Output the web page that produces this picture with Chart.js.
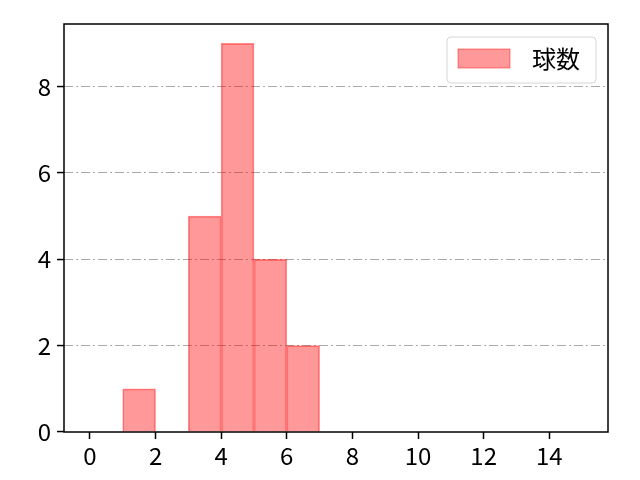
<!DOCTYPE html>
<html>
<head>
<meta charset="utf-8">
<script src="https://cdn.jsdelivr.net/npm/chart.js@4/dist/chart.umd.min.js"></script>
<style>
  html, body { margin: 0; padding: 0; background: #fff; }
  #wrap { width: 640px; height: 480px; }
</style>
</head>
<body>
<div id="wrap"><canvas id="histChart" width="640" height="480"></canvas></div>
<script>
// histogram bins (left edge, width 1) and counts
const binLeft = [1, 3, 4, 5, 6];
const counts = [1, 5, 9, 4, 2];
const seriesLabel = '球数';
const xTicks = [0, 2, 4, 6, 8, 10, 12, 14];
const yTicks = [0, 2, 4, 6, 8];

const points = binLeft.map((b, i) => ({ x: b + 0.5, y: counts[i] }));

const fontFamily = "'Noto Sans CJK JP', 'Noto Sans', sans-serif";
const fontSize = 24;
Chart.defaults.font.family = fontFamily;
Chart.defaults.font.size = fontSize;
Chart.defaults.color = '#000';

// black box round the plot, legend in the upper right corner
const framePlugin = {
  id: 'framePlugin',
  afterDraw(chart) {
    const a = chart.chartArea;
    const c = chart.ctx;
    c.save();
    c.strokeStyle = '#000';
    c.lineWidth = 1.5;
    c.strokeRect(a.left, a.top, a.right - a.left, a.bottom - a.top);

    // legend
    const ds = chart.data.datasets[0];
    const x0 = a.right - 161, x1 = a.right - 12;
    const y0 = a.top + 13, y1 = a.top + 59;
    c.beginPath();
    c.roundRect(x0, y0, x1 - x0, y1 - y0, 4);
    c.fillStyle = 'rgba(255,255,255,0.8)';
    c.fill();
    c.strokeStyle = '#d6d6d6';
    c.lineWidth = 1;
    c.stroke();

    c.fillStyle = ds.backgroundColor;
    c.fillRect(x0 + 11, y0 + 12, 52, 19);
    c.strokeStyle = ds.borderColor;
    c.strokeRect(x0 + 11, y0 + 12, 52, 19);

    c.fillStyle = '#000';
    c.font = fontSize + 'px ' + fontFamily;
    c.textAlign = 'left';
    c.textBaseline = 'middle';
    c.fillText(ds.label, x0 + 85, y0 + 22);
    c.restore();
  }
};

const ctx = document.getElementById('histChart').getContext('2d');

new Chart(ctx, {
  type: 'bar',
  data: {
    datasets: [
      {
        label: seriesLabel,
        data: points,
        backgroundColor: 'rgba(255, 0, 0, 0.4)',
        borderColor: 'rgba(255, 0, 0, 0.45)',
        borderWidth: 1,
        borderSkipped: 'bottom',
        barPercentage: 1,
        categoryPercentage: 1,
        grouped: false,
      },
    ],
  },
  options: {
    responsive: false,
    devicePixelRatio: 1,
    animation: false,
    layout: { padding: { top: 24, right: 32, left: 0, bottom: 0 } },
    plugins: {
      tooltip: { enabled: false },
      legend: { display: false },
    },
    scales: {
      x: {
        type: 'linear',
        min: -0.79,
        max: 15.79,
        offset: false,
        afterFit(scale) { scale.height = 48; },
        afterBuildTicks(scale) { scale.ticks = xTicks.map(v => ({ value: v })); },
        ticks: { padding: 2, includeBounds: false, autoSkip: false, maxRotation: 0 },
        grid: {
          offset: false,
          drawOnChartArea: false,
          drawTicks: true,
          tickLength: 7,
          tickColor: '#000',
          tickWidth: 1.5,
        },
        border: { display: false },
      },
      y: {
        type: 'linear',
        min: 0,
        max: 9.45,
        afterFit(scale) { scale.width = 64; },
        afterBuildTicks(scale) { scale.ticks = yTicks.map(v => ({ value: v })); },
        ticks: { padding: 6, includeBounds: false, autoSkip: false },
        grid: {
          color: (c) => (c.tick && c.tick.value === 0 ? 'rgba(0,0,0,0)' : '#aaaaaa'),
          lineWidth: 1.1,
          drawTicks: true,
          tickLength: 7,
          tickColor: '#000',
          tickWidth: 1.5,
          tickBorderDash: [],
        },
        border: { display: false, dash: [9, 3, 2, 3] },
      },
    },
  },
  plugins: [framePlugin],
});
</script>
</body>
</html>
